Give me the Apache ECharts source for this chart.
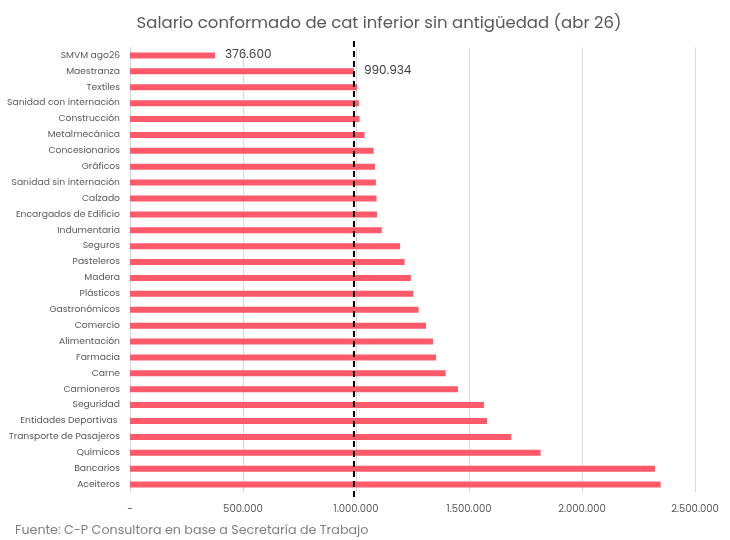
<!DOCTYPE html>
<html>
<head>
<meta charset="utf-8">
<script src="https://cdn.jsdelivr.net/npm/echarts@6/dist/echarts.min.js"></script>
<style>
  html, body { margin: 0; padding: 0; background: #fff; }
  #chart { width: 730px; height: 540px; }
</style>
</head>
<body>
<div id="chart"></div>
<script>
var categories = [
  "SMVM ago26", "Maestranza", "Textiles", "Sanidad con internación", "Construcción",
  "Metalmecánica", "Concesionarios", "Gráficos", "Sanidad sin internación", "Calzado",
  "Encargados de Edificio", "Indumentaria", "Seguros", "Pasteleros", "Madera",
  "Plásticos", "Gastronómicos", "Comercio", "Alimentación", "Farmacia",
  "Carne", "Camioneros", "Seguridad", "Entidades Deportivas ", "Transporte de Pasajeros",
  "Químicos", "Bancarios", "Aceiteros"
];
var salaries = [
  376600, 990934, 1006000, 1013000, 1016000,
  1038000, 1078000, 1084000, 1088000, 1091000,
  1093000, 1114000, 1195000, 1215000, 1243000,
  1254000, 1277000, 1310000, 1341000, 1354000,
  1397000, 1451000, 1566000, 1580000, 1687000,
  1817000, 2323000, 2348000
];
// only these two bars carry a value label
var labelled = ["SMVM ago26", "Maestranza"];
var referenceValue = 990934;
var referenceSpan = [-0.01, 1.02];

var fontFamily = "Poppins, Inter, 'Noto Sans', sans-serif";

function fmt(v) {
  if (v === 0) return "-";
  return String(Math.round(v)).replace(/\B(?=(\d{3})+(?!\d))/g, ".");
}

var barData = categories.map(function (c, i) {
  var item = { value: salaries[i] };
  if (labelled.indexOf(c) >= 0) {
    item.label = {
      show: true, position: "right", distance: 10,
      formatter: function (p) { return fmt(p.value); },
      color: "#404040", fontSize: 12, fontFamily: fontFamily
    };
  }
  return item;
});

var dom = document.getElementById("chart");
var myChart = echarts.init(dom);
var option = {
  animation: false,
  backgroundColor: "#ffffff",
  title: [{
    text: "Salario conformado de cat inferior sin antigüedad (abr 26)",
    left: 374,
    textAlign: "center",
    top: 10,
    textStyle: { fontFamily: fontFamily, fontSize: 16.5, fontWeight: "normal", color: "#595959" }
  }, {
    text: "Fuente: C-P Consultora en base a Secretaría de Trabajo",
    left: 10,
    top: 519,
    textStyle: { fontFamily: fontFamily, fontSize: 12.7, fontWeight: "normal", color: "#7f7f7f" }
  }],
  grid: { left: 130, right: 35, top: 47.5, height: 445, outerBoundsMode: "none", containLabel: false },
  xAxis: [{
    type: "value",
    min: 0, max: 2500000, interval: 500000,
    axisLine: { show: false },
    axisTick: { show: false },
    splitLine: { show: true, lineStyle: { color: "#d9d9d9", width: 1 } },
    axisLabel: {
      formatter: fmt, color: "#595959", fontSize: 10, fontFamily: fontFamily, margin: 12
    }
  }],
  yAxis: [{
    type: "category",
    data: categories,
    inverse: true,
    axisLine: { show: true, lineStyle: { color: "#d9d9d9" } },
    axisTick: { show: false },
    axisLabel: { color: "#595959", fontSize: 9.2, fontFamily: fontFamily, margin: 10 }
  }, {
    type: "value",
    min: 0, max: 1,
    show: false
  }],
  series: [{
    type: "bar",
    data: barData,
    barWidth: 6,
    itemStyle: { color: "#ff5a6a" }
  }, {
    type: "line",
    yAxisIndex: 1,
    clip: false,
    symbol: "none",
    data: [[referenceValue, referenceSpan[0]], [referenceValue, referenceSpan[1]]],
    lineStyle: { color: "#000000", width: 2, type: [6, 4] },
    z: 5
  }]
};
if (option && typeof option === "object") {
  myChart.setOption(option, true);
}
</script>
</body>
</html>
